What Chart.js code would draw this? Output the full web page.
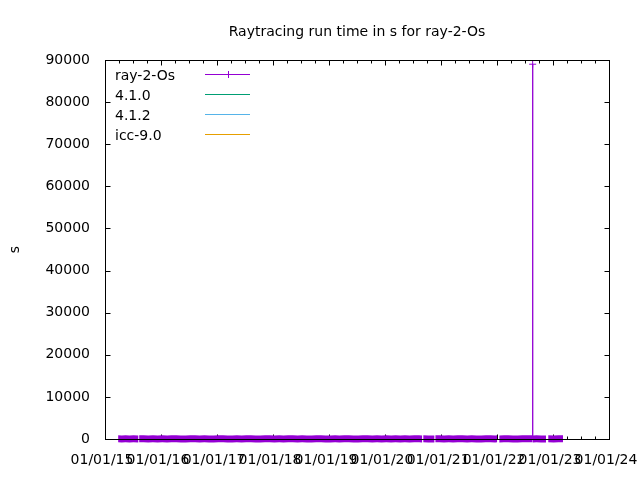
<!DOCTYPE html>
<html lang="en">
<head>
  <meta charset="UTF-8" />
  <title>Raytracing run time in s for ray-2-Os</title>
  <script src="https://cdn.jsdelivr.net/npm/chart.js"></script>
  <style>
    html, body {
      margin: 0;
      padding: 0;
      background: #ffffff;
    }

    .chart-box {
      width: 640px;
      height: 480px;
    }
  </style>
</head>
<body>

  <div class="chart-box">
    <canvas id="runChart" width="640" height="480"></canvas>
  </div>

  <script>
    const titleText = 'Raytracing run time in s for ray-2-Os';
    const yTitle = 's';
    const seriesNames = ['ray-2-Os', '4.1.0', '4.1.2', 'icc-9.0'];
    const seriesColors = ['#9400d3', '#009e73', '#56b4e9', '#e69f00'];

    // ray-2-Os runs, null = break between runs
    const runDates = [
      '2015-03-28', '2015-04-20', '2015-05-15', '2015-06-10', '2015-07-06', '2015-08-06', '2015-08-09', '2015-08-12', '2015-09-10', '2015-10-10', '2015-11-10', '2015-12-10',
      '2016-01-10', '2016-02-10', '2016-03-10', '2016-04-10', '2016-05-10', '2016-06-10', '2016-07-10', '2016-08-10', '2016-09-10', '2016-10-10', '2016-11-10', '2016-12-10',
      '2017-01-10', '2017-02-10', '2017-03-10', '2017-04-10', '2017-05-10', '2017-06-10', '2017-07-10', '2017-08-10', '2017-09-10', '2017-10-10', '2017-11-10', '2017-12-10',
      '2018-01-10', '2018-02-10', '2018-03-10', '2018-04-10', '2018-05-10', '2018-06-10', '2018-07-10', '2018-08-10', '2018-09-10', '2018-10-10', '2018-11-10', '2018-12-10',
      '2019-01-10', '2019-02-10', '2019-03-10', '2019-04-10', '2019-05-10', '2019-06-10', '2019-07-10', '2019-08-10', '2019-09-10', '2019-10-10', '2019-11-10', '2019-12-10',
      '2020-01-10', '2020-02-10', '2020-03-10', '2020-04-10', '2020-05-10', '2020-06-10', '2020-07-10', '2020-08-10', '2020-08-30', '2020-09-03', '2020-09-07', '2020-10-10', '2020-11-18', '2020-11-21', '2020-11-25', '2020-12-20',
      '2021-01-20', '2021-02-20', '2021-03-20', '2021-04-20', '2021-05-20', '2021-06-20', '2021-07-20', '2021-08-20', '2021-09-20', '2021-10-20', '2021-11-20', '2021-12-20',
      '2022-01-01', '2022-01-08', '2022-01-16', '2022-02-15', '2022-03-15', '2022-04-15', '2022-05-15', '2022-06-15', '2022-07-15', '2022-08-20', '2022-08-21', '2022-08-22', '2022-09-15', '2022-10-15', '2022-11-16', '2022-11-23', '2022-12-01',
      '2023-01-05', '2023-02-05', '2023-03-07'
    ];
    const runTimes = [
      31, 29, 30, 28, 30, 29, null, 30, 31, 29, 30, 28,
      30, 29, 31, 30, 28, 29, 30, 31, 29, 30, 28, 29,
      30, 31, 29, 28, 30, 29, 31, 30, 29, 28, 30, 31,
      29, 30, 28, 31, 30, 29, 30, 28, 29, 31, 30, 29,
      28, 30, 29, 31, 30, 29, 28, 30, 31, 29, 30, 28,
      30, 29, 31, 28, 30, 29, 30, 31, 29, null, 30, 28, 29, null, 30, 31,
      29, 30, 28, 31, 30, 29, 30, 28, 29, 31, 30, 29,
      30, null, 29, 31, 30, 28, 29, 30, 31, 30, 89000, 29, 30, 28, 29, null, 30,
      29, 31, 30
    ];
    const gcc410Times = [];
    const gcc412Times = [];
    const icc90Times = [];

    const xTickYears = [2015, 2016, 2017, 2018, 2019, 2020, 2021, 2022, 2023, 2024];
    const xTickLabels = ['01/01/15', '01/01/16', '01/01/17', '01/01/18', '01/01/19', '01/01/20', '01/01/21', '01/01/22', '01/01/23', '01/01/24'];
    const yTickValues = [0, 10000, 20000, 30000, 40000, 50000, 60000, 70000, 80000, 90000];

    const FONT = '14px "DejaVu Sans"';
    const toMs = d => Date.parse(d + 'T00:00:00Z');

    const runPoints = runDates.map((d, i) => ({ x: toMs(d), y: runTimes[i] }));

    // gnuplot style: tics under the data, border over it, plus title, y label and key
    const gnuFrame = {
      id: 'gnuFrame',
      beforeDatasetsDraw(chart) {
        const { ctx, chartArea: a, scales: { x, y } } = chart;
        const L = a.left + 0.5, R = a.right + 0.5, T = a.top + 0.5, B = a.bottom + 0.5;
        ctx.save();
        ctx.strokeStyle = '#000';
        ctx.lineWidth = 1;
        ctx.beginPath();
        yTickValues.forEach(v => {
          const py = Math.round(y.getPixelForValue(v)) + 0.5;
          ctx.moveTo(L, py); ctx.lineTo(L + 5, py);
          ctx.moveTo(R, py); ctx.lineTo(R - 5, py);
        });
        xTickYears.forEach(yr => {
          [0, 3, 6, 9].forEach(m => {
            const v = Date.UTC(yr, m, 1);
            if (v > x.max) return;
            const px = Math.round(x.getPixelForValue(v)) + 0.5;
            const len = m === 0 ? 5 : 3;
            ctx.moveTo(px, B); ctx.lineTo(px, B - len);
            ctx.moveTo(px, T); ctx.lineTo(px, T + len);
          });
        });
        ctx.stroke();
        ctx.restore();
      },
      afterDatasetsDraw(chart) {
        const { ctx, chartArea: a } = chart;
        const L = a.left + 0.5, R = a.right + 0.5, T = a.top + 0.5, B = a.bottom + 0.5;
        ctx.save();
        ctx.strokeStyle = '#000';
        ctx.lineWidth = 1;
        ctx.strokeRect(L, T, R - L, B - T);

        ctx.fillStyle = '#000';
        ctx.font = FONT;
        ctx.textAlign = 'center';
        ctx.textBaseline = 'alphabetic';
        ctx.fillText(titleText, (a.left + a.right) / 2, 36);

        ctx.save();
        ctx.translate(15.5, (a.top + a.bottom) / 2);
        ctx.rotate(-Math.PI / 2);
        ctx.textBaseline = 'middle';
        ctx.fillText(yTitle, 0, 0);
        ctx.restore();

        // key
        ctx.textAlign = 'left';
        seriesNames.forEach((name, i) => {
          const ly = 74.5 + i * 20;
          ctx.fillStyle = '#000';
          ctx.fillText(name, 115, ly + 5);
          ctx.strokeStyle = seriesColors[i];
          ctx.beginPath();
          ctx.moveTo(205, ly); ctx.lineTo(250, ly);
          if (i === 0) {
            ctx.moveTo(228.5, ly - 3.5); ctx.lineTo(228.5, ly + 3.5);
          }
          ctx.stroke();
        });
        ctx.restore();
      }
    };

    new Chart(document.getElementById('runChart'), {
      type: 'line',
      data: {
        datasets: [
          {
            label: seriesNames[0],
            data: runPoints,
            borderColor: seriesColors[0],
            backgroundColor: seriesColors[0],
            borderWidth: 7,
            borderCapStyle: 'butt',
            spanGaps: false,
            clip: false,
            pointStyle: 'cross',
            pointRadius: c => (c.raw && c.raw.y > 1000 ? 3.5 : 0),
            pointBorderWidth: 1,
            pointBorderColor: seriesColors[0],
            segment: {
              borderWidth: c => (c.p0.parsed.y > 1000 || c.p1.parsed.y > 1000 ? 1 : 7)
            }
          },
          { label: seriesNames[1], data: gcc410Times, borderColor: seriesColors[1], borderWidth: 1, pointRadius: 0 },
          { label: seriesNames[2], data: gcc412Times, borderColor: seriesColors[2], borderWidth: 1, pointRadius: 0 },
          { label: seriesNames[3], data: icc90Times, borderColor: seriesColors[3], borderWidth: 1, pointRadius: 0 }
        ]
      },
      options: {
        responsive: false,
        animation: false,
        events: [],
        layout: {
          padding: { left: 0, right: 31, top: 60, bottom: 0 }
        },
        plugins: {
          legend: { display: false },
          title: { display: false },
          tooltip: { enabled: false }
        },
        scales: {
          x: {
            type: 'linear',
            min: Date.UTC(2015, 0, 1),
            max: Date.UTC(2024, 0, 1),
            grid: { display: false, drawTicks: false },
            border: { display: false },
            afterBuildTicks: s => { s.ticks = xTickYears.map(yr => ({ value: Date.UTC(yr, 0, 1) })); },
            afterFit: s => { s.height = 41; s.paddingLeft = 0; s.paddingRight = 0; },
            ticks: {
              autoSkip: false,
              maxRotation: 0,
              minRotation: 0,
              padding: 13,
              labelOffset: -3,
              color: '#000',
              font: { family: 'DejaVu Sans', size: 14 },
              callback: (v, i) => xTickLabels[i]
            }
          },
          y: {
            type: 'linear',
            min: 0,
            max: 90000,
            grid: { display: false, drawTicks: false },
            border: { display: false },
            afterBuildTicks: s => { s.ticks = yTickValues.map(v => ({ value: v })); },
            afterFit: s => { s.width = 105; s.paddingTop = 0; s.paddingBottom = 0; },
            ticks: {
              padding: 15,
              color: '#000',
              font: { family: 'DejaVu Sans', size: 14 },
              callback: v => String(v)
            }
          }
        }
      },
      plugins: [gnuFrame]
    });
  </script>
</body>
</html>
